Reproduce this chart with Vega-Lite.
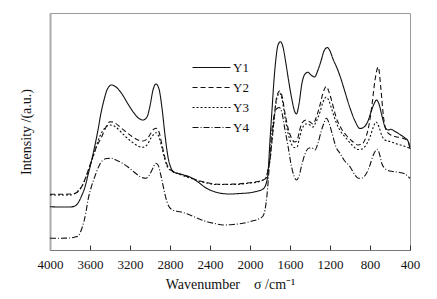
{
  "$schema": "https://vega.github.io/schema/vega-lite/v6.json",
  "width": 360,
  "height": 237,
  "autosize": {"type": "none"},
  "padding": {"left": 50, "top": 13, "right": 27, "bottom": 49},
  "background": "white",
  "config": {
    "font": "Liberation Serif",
    "view": {"stroke": "#9a9a9a", "strokeWidth": 1},
    "axis": {"grid": false}
  },
  "datasets": {
    "spec": []
  },
  "data": {"values": [
    {"s":"Y1","w":4000,"v":43.3},{"s":"Y1","w":3900,"v":43},{"s":"Y1","w":3800,"v":43},{"s":"Y1","w":3750,"v":44},{"s":"Y1","w":3720,"v":47},{"s":"Y1","w":3680,"v":55},{"s":"Y1","w":3650,"v":63},{"s":"Y1","w":3620,"v":75},{"s":"Y1","w":3583,"v":90},{"s":"Y1","w":3550,"v":105},{"s":"Y1","w":3520,"v":120},{"s":"Y1","w":3490,"v":137},{"s":"Y1","w":3460,"v":150},{"s":"Y1","w":3430,"v":160},{"s":"Y1","w":3385,"v":165},{"s":"Y1","w":3340,"v":163},{"s":"Y1","w":3280,"v":156},{"s":"Y1","w":3220,"v":146},{"s":"Y1","w":3160,"v":137},{"s":"Y1","w":3110,"v":131.5},{"s":"Y1","w":3070,"v":130},{"s":"Y1","w":3030,"v":133},{"s":"Y1","w":3000,"v":144},{"s":"Y1","w":2970,"v":160},{"s":"Y1","w":2940,"v":166},{"s":"Y1","w":2910,"v":161},{"s":"Y1","w":2880,"v":142},{"s":"Y1","w":2850,"v":115},{"s":"Y1","w":2820,"v":93},{"s":"Y1","w":2790,"v":82},{"s":"Y1","w":2760,"v":78},{"s":"Y1","w":2700,"v":76},{"s":"Y1","w":2640,"v":74.5},{"s":"Y1","w":2580,"v":72},{"s":"Y1","w":2520,"v":68},{"s":"Y1","w":2440,"v":62},{"s":"Y1","w":2360,"v":58.5},{"s":"Y1","w":2280,"v":56.5},{"s":"Y1","w":2200,"v":56},{"s":"Y1","w":2100,"v":56.5},{"s":"Y1","w":2000,"v":57.3},{"s":"Y1","w":1920,"v":59},{"s":"Y1","w":1870,"v":61},{"s":"Y1","w":1840,"v":66},{"s":"Y1","w":1820,"v":77},{"s":"Y1","w":1800,"v":110},{"s":"Y1","w":1780,"v":140},{"s":"Y1","w":1760,"v":170},{"s":"Y1","w":1740,"v":192},{"s":"Y1","w":1720,"v":205},{"s":"Y1","w":1695,"v":208.3},{"s":"Y1","w":1670,"v":203},{"s":"Y1","w":1640,"v":186},{"s":"Y1","w":1610,"v":167},{"s":"Y1","w":1580,"v":150},{"s":"Y1","w":1555,"v":139},{"s":"Y1","w":1535,"v":136},{"s":"Y1","w":1510,"v":146},{"s":"Y1","w":1480,"v":167},{"s":"Y1","w":1450,"v":176},{"s":"Y1","w":1420,"v":177.7},{"s":"Y1","w":1390,"v":175},{"s":"Y1","w":1355,"v":173},{"s":"Y1","w":1320,"v":180},{"s":"Y1","w":1290,"v":189},{"s":"Y1","w":1260,"v":199},{"s":"Y1","w":1227,"v":202.5},{"s":"Y1","w":1200,"v":199},{"s":"Y1","w":1170,"v":191},{"s":"Y1","w":1130,"v":182},{"s":"Y1","w":1090,"v":171},{"s":"Y1","w":1050,"v":158},{"s":"Y1","w":1000,"v":142},{"s":"Y1","w":950,"v":129},{"s":"Y1","w":900,"v":121.5},{"s":"Y1","w":860,"v":123},{"s":"Y1","w":820,"v":129},{"s":"Y1","w":790,"v":138},{"s":"Y1","w":760,"v":146},{"s":"Y1","w":735,"v":150},{"s":"Y1","w":710,"v":146},{"s":"Y1","w":680,"v":134},{"s":"Y1","w":650,"v":123},{"s":"Y1","w":620,"v":120},{"s":"Y1","w":590,"v":120.7},{"s":"Y1","w":550,"v":118.5},{"s":"Y1","w":500,"v":115.5},{"s":"Y1","w":450,"v":112},{"s":"Y1","w":420,"v":109},{"s":"Y1","w":400,"v":101},
    {"s":"Y2","w":4000,"v":55.7},{"s":"Y2","w":3900,"v":55.7},{"s":"Y2","w":3800,"v":56},{"s":"Y2","w":3750,"v":56.7},{"s":"Y2","w":3683,"v":63.3},{"s":"Y2","w":3617,"v":80},{"s":"Y2","w":3583,"v":90},{"s":"Y2","w":3540,"v":102},{"s":"Y2","w":3483,"v":113.3},{"s":"Y2","w":3440,"v":123},{"s":"Y2","w":3400,"v":128.3},{"s":"Y2","w":3350,"v":127},{"s":"Y2","w":3300,"v":123},{"s":"Y2","w":3240,"v":118},{"s":"Y2","w":3180,"v":113.5},{"s":"Y2","w":3120,"v":110},{"s":"Y2","w":3070,"v":109},{"s":"Y2","w":3030,"v":111},{"s":"Y2","w":2990,"v":117},{"s":"Y2","w":2960,"v":121},{"s":"Y2","w":2935,"v":121.7},{"s":"Y2","w":2910,"v":118},{"s":"Y2","w":2880,"v":105},{"s":"Y2","w":2850,"v":92},{"s":"Y2","w":2820,"v":83},{"s":"Y2","w":2780,"v":79},{"s":"Y2","w":2700,"v":76},{"s":"Y2","w":2600,"v":72.5},{"s":"Y2","w":2500,"v":69},{"s":"Y2","w":2430,"v":67.3},{"s":"Y2","w":2350,"v":66},{"s":"Y2","w":2270,"v":65.7},{"s":"Y2","w":2150,"v":66},{"s":"Y2","w":2000,"v":67.3},{"s":"Y2","w":1920,"v":68.5},{"s":"Y2","w":1870,"v":70},{"s":"Y2","w":1840,"v":72},{"s":"Y2","w":1820,"v":80},{"s":"Y2","w":1800,"v":90},{"s":"Y2","w":1780,"v":110},{"s":"Y2","w":1760,"v":130},{"s":"Y2","w":1740,"v":149},{"s":"Y2","w":1720,"v":157},{"s":"Y2","w":1703,"v":159},{"s":"Y2","w":1680,"v":154},{"s":"Y2","w":1650,"v":137},{"s":"Y2","w":1620,"v":122},{"s":"Y2","w":1590,"v":113},{"s":"Y2","w":1555,"v":108},{"s":"Y2","w":1530,"v":109},{"s":"Y2","w":1510,"v":117},{"s":"Y2","w":1480,"v":127},{"s":"Y2","w":1440,"v":130},{"s":"Y2","w":1400,"v":128},{"s":"Y2","w":1370,"v":126},{"s":"Y2","w":1340,"v":132},{"s":"Y2","w":1300,"v":145},{"s":"Y2","w":1270,"v":157},{"s":"Y2","w":1237,"v":163.5},{"s":"Y2","w":1210,"v":158},{"s":"Y2","w":1180,"v":148},{"s":"Y2","w":1140,"v":133},{"s":"Y2","w":1090,"v":122},{"s":"Y2","w":1040,"v":115},{"s":"Y2","w":980,"v":109},{"s":"Y2","w":920,"v":105},{"s":"Y2","w":880,"v":106},{"s":"Y2","w":840,"v":113},{"s":"Y2","w":810,"v":125},{"s":"Y2","w":780,"v":145},{"s":"Y2","w":750,"v":170},{"s":"Y2","w":717,"v":183},{"s":"Y2","w":690,"v":160},{"s":"Y2","w":665,"v":133},{"s":"Y2","w":635,"v":119},{"s":"Y2","w":600,"v":115.5},{"s":"Y2","w":550,"v":113.5},{"s":"Y2","w":470,"v":111.7},{"s":"Y2","w":420,"v":109},{"s":"Y2","w":400,"v":101.7},
    {"s":"Y3","w":4000,"v":55},{"s":"Y3","w":3900,"v":55},{"s":"Y3","w":3800,"v":55},{"s":"Y3","w":3760,"v":56},{"s":"Y3","w":3720,"v":59},{"s":"Y3","w":3680,"v":64},{"s":"Y3","w":3640,"v":73},{"s":"Y3","w":3600,"v":84},{"s":"Y3","w":3560,"v":96},{"s":"Y3","w":3520,"v":109},{"s":"Y3","w":3480,"v":118},{"s":"Y3","w":3440,"v":123},{"s":"Y3","w":3400,"v":125},{"s":"Y3","w":3350,"v":123.5},{"s":"Y3","w":3300,"v":119},{"s":"Y3","w":3240,"v":113},{"s":"Y3","w":3180,"v":108},{"s":"Y3","w":3120,"v":104},{"s":"Y3","w":3070,"v":102.7},{"s":"Y3","w":3030,"v":105},{"s":"Y3","w":2990,"v":112},{"s":"Y3","w":2960,"v":116},{"s":"Y3","w":2940,"v":117.3},{"s":"Y3","w":2910,"v":113},{"s":"Y3","w":2880,"v":102},{"s":"Y3","w":2850,"v":90},{"s":"Y3","w":2820,"v":82},{"s":"Y3","w":2780,"v":79},{"s":"Y3","w":2700,"v":75.5},{"s":"Y3","w":2600,"v":72},{"s":"Y3","w":2500,"v":68.5},{"s":"Y3","w":2430,"v":67},{"s":"Y3","w":2350,"v":65.5},{"s":"Y3","w":2270,"v":65.5},{"s":"Y3","w":2150,"v":65.5},{"s":"Y3","w":2000,"v":67},{"s":"Y3","w":1920,"v":68},{"s":"Y3","w":1870,"v":70},{"s":"Y3","w":1840,"v":72},{"s":"Y3","w":1820,"v":80},{"s":"Y3","w":1800,"v":90},{"s":"Y3","w":1780,"v":109},{"s":"Y3","w":1760,"v":129},{"s":"Y3","w":1740,"v":147},{"s":"Y3","w":1720,"v":155},{"s":"Y3","w":1703,"v":157},{"s":"Y3","w":1680,"v":151},{"s":"Y3","w":1650,"v":133},{"s":"Y3","w":1620,"v":117},{"s":"Y3","w":1590,"v":107},{"s":"Y3","w":1555,"v":102.5},{"s":"Y3","w":1530,"v":103},{"s":"Y3","w":1510,"v":110},{"s":"Y3","w":1480,"v":121},{"s":"Y3","w":1440,"v":126},{"s":"Y3","w":1400,"v":125},{"s":"Y3","w":1370,"v":123},{"s":"Y3","w":1340,"v":128},{"s":"Y3","w":1300,"v":138},{"s":"Y3","w":1270,"v":148},{"s":"Y3","w":1237,"v":153},{"s":"Y3","w":1210,"v":149},{"s":"Y3","w":1180,"v":140},{"s":"Y3","w":1140,"v":128},{"s":"Y3","w":1090,"v":118},{"s":"Y3","w":1040,"v":112},{"s":"Y3","w":980,"v":105},{"s":"Y3","w":920,"v":100.5},{"s":"Y3","w":880,"v":101},{"s":"Y3","w":840,"v":105},{"s":"Y3","w":800,"v":113},{"s":"Y3","w":770,"v":122},{"s":"Y3","w":740,"v":128},{"s":"Y3","w":710,"v":123},{"s":"Y3","w":680,"v":114},{"s":"Y3","w":650,"v":110},{"s":"Y3","w":600,"v":108.5},{"s":"Y3","w":530,"v":106},{"s":"Y3","w":460,"v":104},{"s":"Y3","w":400,"v":101.7},
    {"s":"Y4","w":4000,"v":11.7},{"s":"Y4","w":3900,"v":11.7},{"s":"Y4","w":3800,"v":12},{"s":"Y4","w":3750,"v":13},{"s":"Y4","w":3720,"v":14},{"s":"Y4","w":3680,"v":22},{"s":"Y4","w":3640,"v":38},{"s":"Y4","w":3620,"v":50},{"s":"Y4","w":3590,"v":62},{"s":"Y4","w":3550,"v":74},{"s":"Y4","w":3510,"v":84},{"s":"Y4","w":3470,"v":90},{"s":"Y4","w":3430,"v":91.5},{"s":"Y4","w":3385,"v":91.7},{"s":"Y4","w":3340,"v":90},{"s":"Y4","w":3280,"v":87},{"s":"Y4","w":3220,"v":83},{"s":"Y4","w":3160,"v":78},{"s":"Y4","w":3100,"v":73.5},{"s":"Y4","w":3040,"v":71.7},{"s":"Y4","w":3000,"v":76},{"s":"Y4","w":2970,"v":82},{"s":"Y4","w":2943,"v":86.7},{"s":"Y4","w":2920,"v":85},{"s":"Y4","w":2890,"v":74},{"s":"Y4","w":2860,"v":60},{"s":"Y4","w":2830,"v":48},{"s":"Y4","w":2790,"v":41},{"s":"Y4","w":2740,"v":39},{"s":"Y4","w":2670,"v":37.5},{"s":"Y4","w":2600,"v":35},{"s":"Y4","w":2520,"v":31.5},{"s":"Y4","w":2430,"v":28.3},{"s":"Y4","w":2350,"v":26.5},{"s":"Y4","w":2270,"v":25},{"s":"Y4","w":2170,"v":25.5},{"s":"Y4","w":2070,"v":26.7},{"s":"Y4","w":1980,"v":29},{"s":"Y4","w":1900,"v":31.7},{"s":"Y4","w":1870,"v":34},{"s":"Y4","w":1850,"v":40},{"s":"Y4","w":1830,"v":55},{"s":"Y4","w":1810,"v":80},{"s":"Y4","w":1790,"v":110},{"s":"Y4","w":1770,"v":128},{"s":"Y4","w":1750,"v":138},{"s":"Y4","w":1730,"v":141.5},{"s":"Y4","w":1707,"v":142.5},{"s":"Y4","w":1680,"v":137},{"s":"Y4","w":1650,"v":120},{"s":"Y4","w":1620,"v":104},{"s":"Y4","w":1590,"v":86},{"s":"Y4","w":1560,"v":74},{"s":"Y4","w":1535,"v":70},{"s":"Y4","w":1510,"v":74},{"s":"Y4","w":1480,"v":86},{"s":"Y4","w":1450,"v":96},{"s":"Y4","w":1410,"v":102},{"s":"Y4","w":1380,"v":102},{"s":"Y4","w":1350,"v":100},{"s":"Y4","w":1320,"v":107},{"s":"Y4","w":1290,"v":118},{"s":"Y4","w":1260,"v":127},{"s":"Y4","w":1235,"v":131.7},{"s":"Y4","w":1210,"v":127},{"s":"Y4","w":1180,"v":117},{"s":"Y4","w":1140,"v":103},{"s":"Y4","w":1100,"v":96.7},{"s":"Y4","w":1060,"v":90},{"s":"Y4","w":1000,"v":83.3},{"s":"Y4","w":950,"v":75},{"s":"Y4","w":915,"v":71.7},{"s":"Y4","w":880,"v":72},{"s":"Y4","w":835,"v":76.7},{"s":"Y4","w":800,"v":85},{"s":"Y4","w":767,"v":95},{"s":"Y4","w":725,"v":100.7},{"s":"Y4","w":700,"v":94},{"s":"Y4","w":680,"v":86},{"s":"Y4","w":655,"v":82},{"s":"Y4","w":630,"v":80},{"s":"Y4","w":570,"v":78.5},{"s":"Y4","w":500,"v":77.5},{"s":"Y4","w":450,"v":76},{"s":"Y4","w":400,"v":71.7}
  ]},
  "mark": {"type": "line", "interpolate": "monotone", "strokeWidth": 1.1, "color": "#111"},
  "encoding": {
    "x": {
      "field": "w", "type": "quantitative",
      "scale": {"domain": [400, 4000], "reverse": true, "nice": false, "zero": false},
      "axis": {
        "values": [4000, 3600, 3200, 2800, 2400, 2000, 1600, 1200, 800, 400],
        "format": "d",
        "tickSize": -5, "tickColor": "#333", "domainColor": "#777",
        "labelFont": "Liberation Serif", "labelFontSize": 13, "labelColor": "#111",
        "labelPadding": 13, "labelFlush": false, "labelOverlap": false,
        "title": "Wavenumber\u00a0\u00a0\u00a0\u00a0σ /cm⁻¹",
        "titleFont": "Liberation Serif", "titleFontSize": 14, "titleFontWeight": "normal",
        "titleColor": "#111", "titlePadding": 6
      }
    },
    "y": {
      "field": "v", "type": "quantitative",
      "scale": {"domain": [0, 237], "nice": false, "zero": false},
      "axis": {
        "labels": false, "ticks": false, "domainColor": "#aaa", "domainWidth": 2,
        "title": "Intensity /(a.u.)",
        "titleFont": "Liberation Serif", "titleFontSize": 14, "titleFontWeight": "normal",
        "titleColor": "#111", "titlePadding": 17
      }
    },
    "strokeDash": {
      "field": "s", "type": "nominal",
      "scale": {"domain": ["Y1", "Y2", "Y3", "Y4"], "range": [[1, 0], [5, 3], [2, 2], [6, 2, 1, 2]]},
      "legend": {
        "title": null, "orient": "none", "legendX": 155, "legendY": 48,
        "padding": 0,
        "symbolType": "M-4,0H4", "symbolSize": 90,
        "symbolStrokeColor": "#111", "symbolStrokeWidth": 1.1,
        "labelFont": "Liberation Serif", "labelFontSize": 13, "labelColor": "#111",
        "labelOffset": 15, "rowPadding": 6
      }
    }
  }
}
